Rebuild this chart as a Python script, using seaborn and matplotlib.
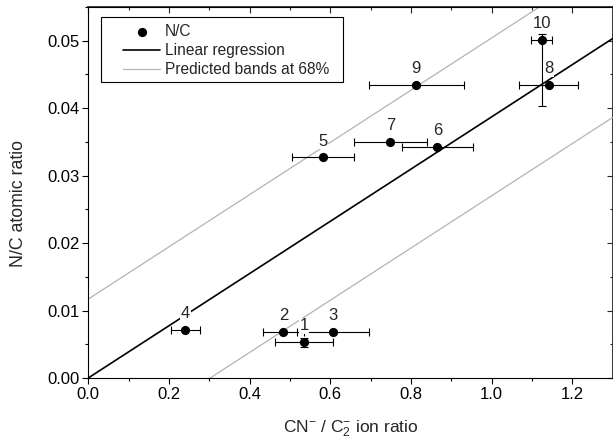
import numpy as np
import pandas as pd
import seaborn as sns
import matplotlib.pyplot as plt
from matplotlib.patches import Rectangle
from matplotlib.ticker import MultipleLocator

# values
sample_ids = ["1", "2", "3", "4", "5", "6", "7", "8", "9", "10"]
cn_c2_ratio = [0.535, 0.484, 0.607, 0.241, 0.582, 0.866, 0.749, 1.142, 0.813, 1.124]
nc_ratio = [0.0053, 0.0068, 0.0068, 0.0071, 0.0327, 0.0342, 0.0350, 0.0434, 0.0434, 0.0501]
x_err = [0.071, 0.050, 0.089, 0.035, 0.078, 0.087, 0.090, 0.073, 0.118, 0.026]
y_err_low = [0.0007, 0, 0, 0, 0, 0, 0, 0, 0, 0.0098]
y_err_high = [0.0007, 0, 0, 0, 0, 0, 0, 0, 0, 0.0009]

# fitted line (through origin) and 68% prediction band offset
fit_slope = 0.0387
band_offset = 0.0117
x_range = [0.0, 1.3]

df = pd.DataFrame({"ratio": cn_c2_ratio, "nc": nc_ratio, "id": sample_ids})

sns.set_theme(style="ticks")
plt.rcParams["font.family"] = ["Liberation Sans", "DejaVu Sans"]
plt.rcParams["mathtext.fontset"] = "custom"
plt.rcParams["mathtext.rm"] = "Liberation Sans"
plt.rcParams["mathtext.it"] = "Liberation Sans:italic"

fig = plt.figure(figsize=(6.13, 4.45), dpi=100)
ax = fig.add_axes([0.144, 0.1506, 0.8552, 0.8337])

fit_df = pd.DataFrame({"x": x_range, "y": [fit_slope * v for v in x_range]})
up_df = pd.DataFrame({"x": x_range, "y": [fit_slope * v + band_offset for v in x_range]})
lo_df = pd.DataFrame({"x": x_range, "y": [fit_slope * v - band_offset for v in x_range]})

sns.lineplot(data=fit_df, x="x", y="y", color="black", lw=1.2, ax=ax,
             label="Linear regression", zorder=3)
sns.lineplot(data=up_df, x="x", y="y", color="#b4b4b4", lw=0.9, ax=ax,
             label="Predicted bands at 68%", zorder=2)
sns.lineplot(data=lo_df, x="x", y="y", color="#b4b4b4", lw=0.9, ax=ax,
             zorder=2)

ax.errorbar(df["ratio"], df["nc"], xerr=x_err, yerr=[y_err_low, y_err_high],
            fmt="none", ecolor="black", elinewidth=0.8, capsize=2.6,
            capthick=0.8, zorder=4)
sns.scatterplot(data=df, x="ratio", y="nc", color="black", s=44,
                edgecolor="black", linewidth=0, ax=ax, label="N/C", zorder=5)

for _, r in df.iterrows():
    ax.annotate(r["id"], (r["ratio"], r["nc"]), xytext=(0, 11.8),
                textcoords="offset points", ha="center", va="center",
                fontsize=12, zorder=6,
                bbox=dict(facecolor="white", edgecolor="none", pad=0.6))

ax.set_xlim(0, 1.3)
ax.set_ylim(0, 0.055)
ax.xaxis.set_major_locator(MultipleLocator(0.2))
ax.xaxis.set_minor_locator(MultipleLocator(0.1))
ax.yaxis.set_major_locator(MultipleLocator(0.01))
ax.yaxis.set_minor_locator(MultipleLocator(0.005))
ax.xaxis.set_major_formatter(plt.FormatStrFormatter("%.1f"))
ax.yaxis.set_major_formatter(plt.FormatStrFormatter("%.2f"))
ax.tick_params(which="major", direction="out", length=4.2, width=0.8,
               labelsize=12, color="black", labelcolor="black", pad=2)
ax.tick_params(which="minor", direction="out", length=2.3, width=0.8,
               color="black")

for side in ["top", "right"]:
    ax.spines[side].set_visible(True)
for sp in ax.spines.values():
    sp.set_linewidth(0.8)
    sp.set_color("black")

top = ax.secondary_xaxis("top")
top.xaxis.set_major_locator(MultipleLocator(0.2))
top.xaxis.set_minor_locator(MultipleLocator(0.1))
top.tick_params(which="both", direction="in", labeltop=False, width=0.8)
top.tick_params(which="major", length=4.2)
top.tick_params(which="minor", length=2.3)
right = ax.secondary_yaxis("right")
right.yaxis.set_major_locator(MultipleLocator(0.01))
right.yaxis.set_minor_locator(MultipleLocator(0.005))
right.tick_params(which="both", direction="in", labelright=False, width=0.8)
right.tick_params(which="major", length=4.2)
right.tick_params(which="minor", length=2.3)

ax.set_xlabel(r"CN$^{-}$ / C$_{2}^{-}$ ion ratio", fontsize=12.5)
ax.set_ylabel("N/C atomic ratio", fontsize=12.8)
ax.xaxis.set_label_coords(0.5, -0.11)
ax.yaxis.set_label_coords(-0.117, 0.47)

# legend: frame drawn separately so the entries can sit further in
ax.add_patch(Rectangle((0.0237, 0.7987), 0.4617, 0.1752, transform=ax.transAxes,
                       facecolor="white", edgecolor="black", lw=0.8, zorder=7))
handles, labels = ax.get_legend_handles_labels()
order = [labels.index(l) for l in ["N/C", "Linear regression", "Predicted bands at 68%"]]
leg = ax.legend([handles[i] for i in order], [labels[i] for i in order],
                loc="upper left", bbox_to_anchor=(0.066, 0.955),
                borderaxespad=0, frameon=False, fontsize=11.2,
                handlelength=2.4, handletextpad=0.3, labelspacing=0.28,
                borderpad=0)
leg.set_zorder(8)

fig.savefig("out.png", dpi=100)
